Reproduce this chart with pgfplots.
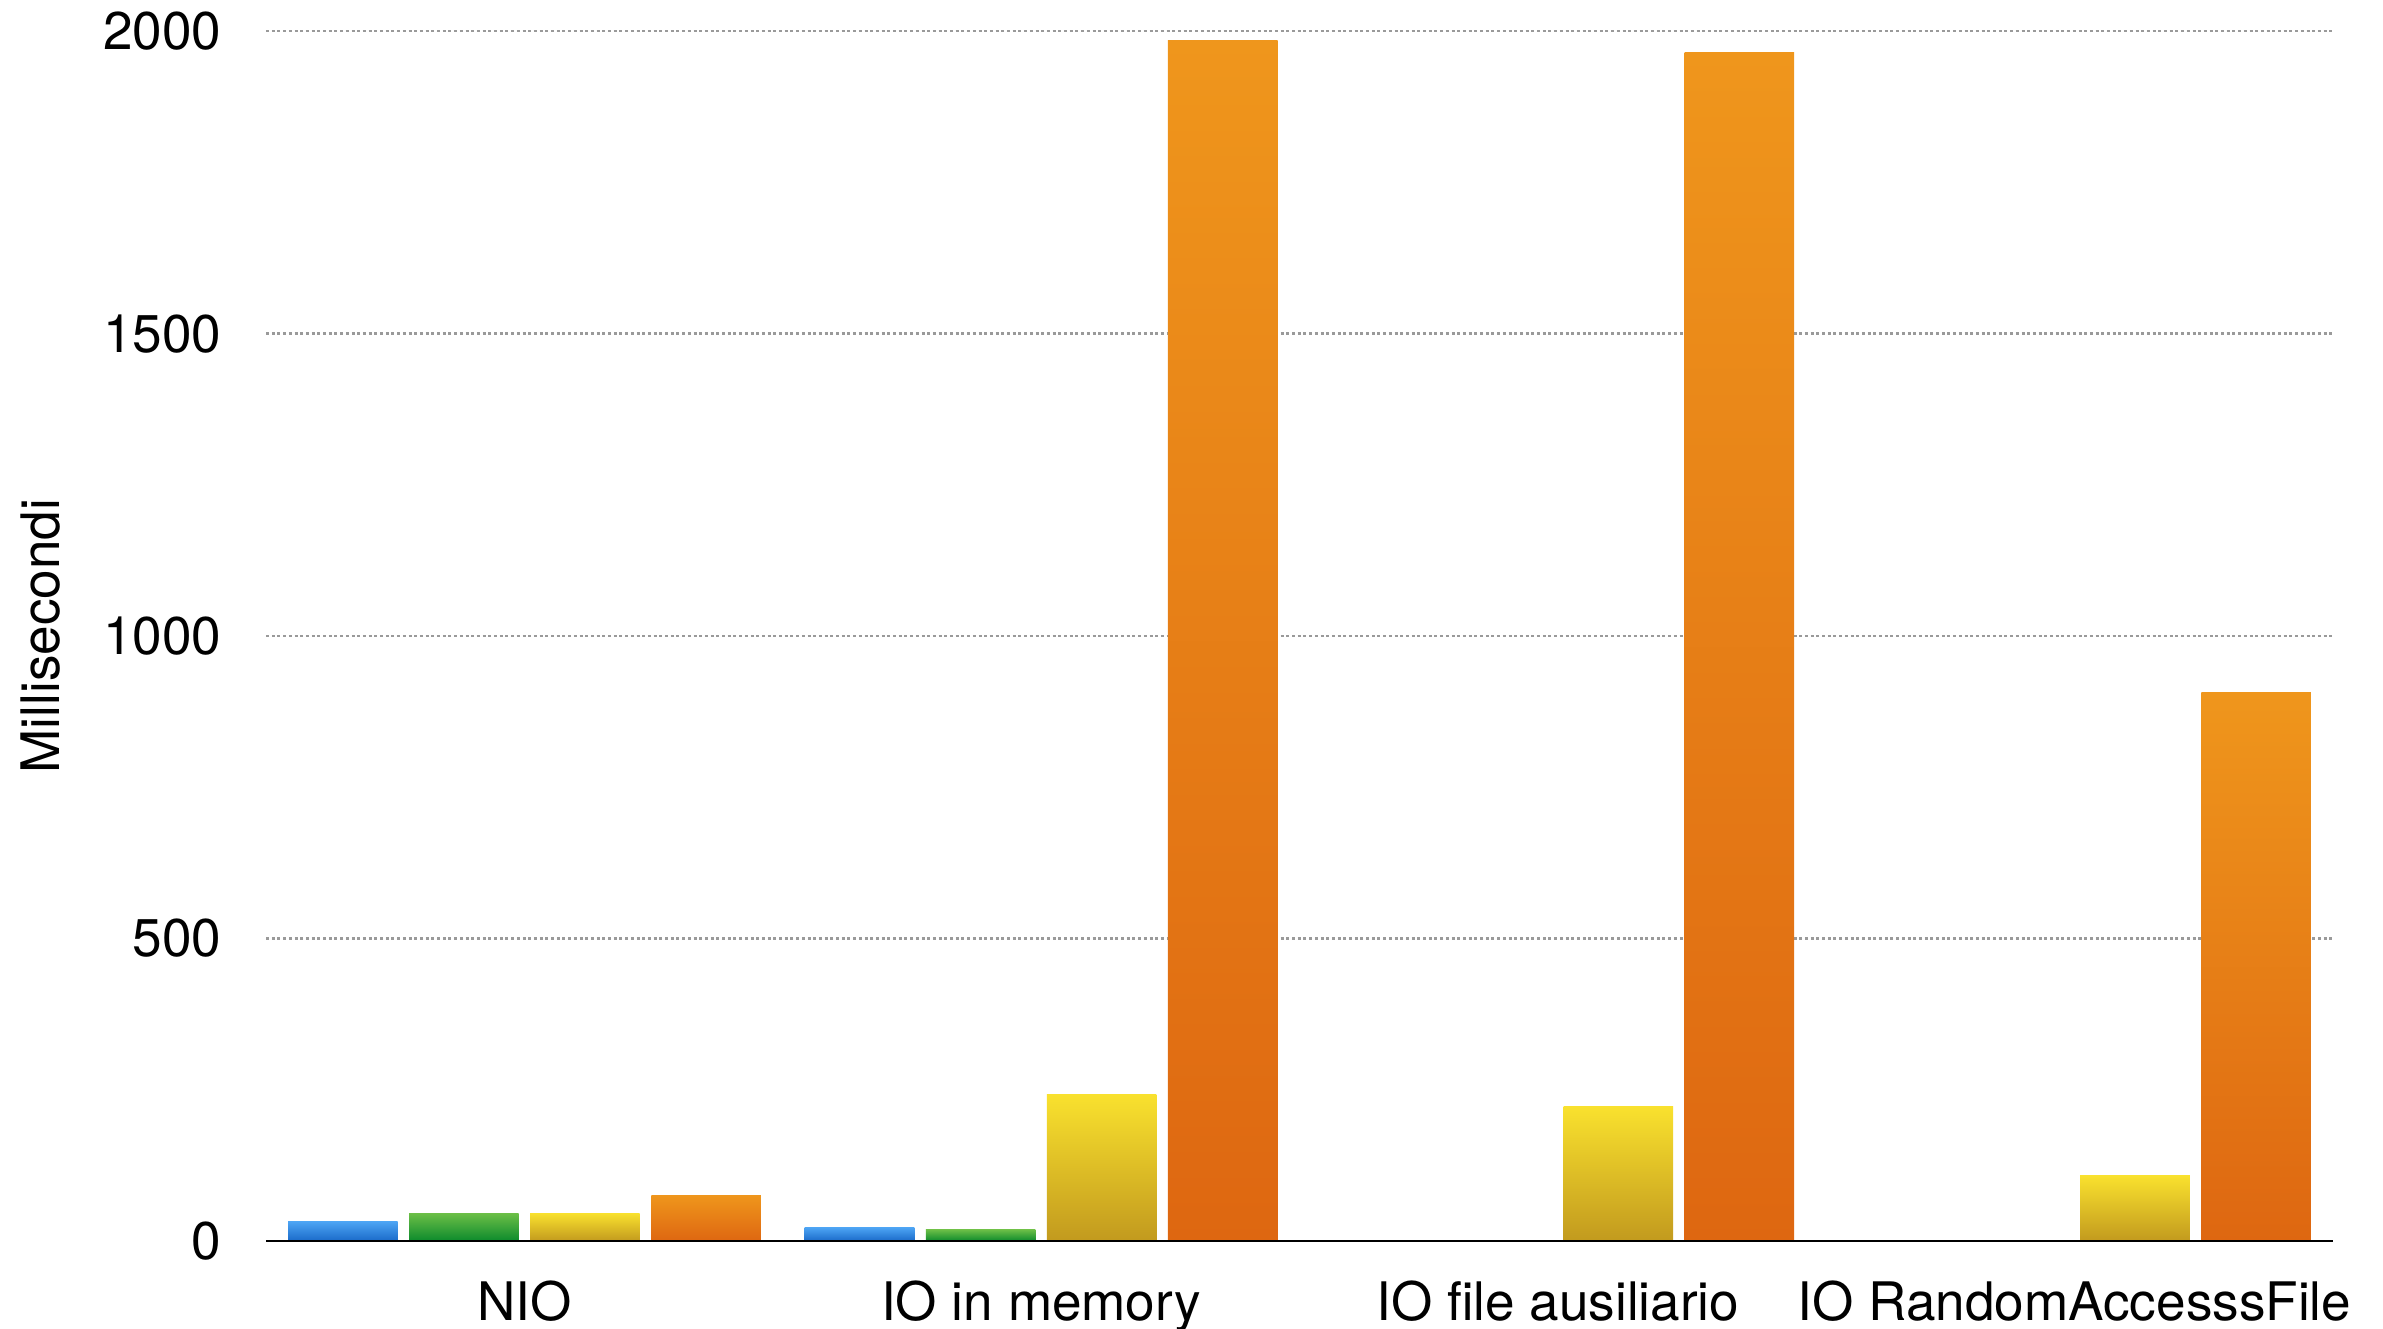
\documentclass[border=0pt]{standalone}
\usepackage{pgfplots}
\pgfplotsset{compat=1.18}
\usepackage{fontspec}
\setmainfont{TeX Gyre Heros}

\definecolor{blueTop}{HTML}{4EA6F5}
\definecolor{blueBot}{HTML}{1A6AC9}
\definecolor{greenTop}{HTML}{6CBF47}
\definecolor{greenBot}{HTML}{0C8A2C}
\definecolor{yellowTop}{HTML}{F9E12E}
\definecolor{yellowBot}{HTML}{C29A1E}
\definecolor{orangeTop}{HTML}{EF961C}
\definecolor{orangeBot}{HTML}{DE6711}
\definecolor{gridgray}{HTML}{9A9A9A}

\newcommand{\lblfont}{\fontsize{17.7}{21}\selectfont}

% each series gets its own shift and gradient; every bar is its own plot
% so the gradient runs over that bar alone
\pgfplotsset{
  barbase/.style={ybar, bar width=0.212, draw=none},
  sblue/.style={barbase, bar shift=-0.3515, top color=blueTop, bottom color=blueBot},
  sgreen/.style={barbase, bar shift=-0.117, top color=greenTop, bottom color=greenBot},
  syellow/.style={barbase, bar shift=0.117, top color=yellowTop, bottom color=yellowBot},
  sorange/.style={barbase, bar shift=0.3515, top color=orangeTop, bottom color=orangeBot},
}

\begin{document}
\begin{tikzpicture}
\useasboundingbox (-88.7pt,-29pt) rectangle (705.7pt,413.7pt);
\begin{axis}[
  scale only axis,
  width=689pt, height=403.3pt,
  xmin=-0.5, xmax=3.5, ymin=0, ymax=2000,
  xtick={0,1,2,3},
  xticklabels={NIO, IO in memory, IO file ausiliario, IO RandomAccesssFile},
  ytick={0,500,1000,1500,2000},
  major tick length=0pt,
  axis x line*=bottom, axis y line*=left,
  x axis line style={draw=none},
  y axis line style={draw=none},
  ymajorgrids,
  grid style={gridgray, line width=0.8pt, dash pattern=on 1pt off 0.9pt},
  /pgf/number format/assume math mode=true,
  /pgf/number format/1000 sep={},
  ticklabel style={font=\lblfont},
  yticklabel style={inner sep=0pt, anchor=east, xshift=-14.7pt},
  xticklabel style={inner sep=0pt, anchor=north, text height=12.6pt, text depth=0pt, yshift=-13.8pt},
  ylabel={Millisecondi},
  ylabel style={font=\lblfont, at={(axis description cs:-0.1089,0.5)}, anchor=center},
]
% NIO
\addplot[sblue]   coordinates {(0,33)};
\addplot[sgreen]  coordinates {(0,46)};
\addplot[syellow] coordinates {(0,46)};
\addplot[sorange] coordinates {(0,76)};
% IO in memory
\addplot[sblue]   coordinates {(1,23)};
\addplot[sgreen]  coordinates {(1,19)};
\addplot[syellow] coordinates {(1,242)};
\addplot[sorange] coordinates {(1,1984)};
% IO file ausiliario
\addplot[syellow] coordinates {(2,222)};
\addplot[sorange] coordinates {(2,1964)};
% IO RandomAccesssFile
\addplot[syellow] coordinates {(3,108)};
\addplot[sorange] coordinates {(3,906)};
% baseline over the bar feet
\draw[black, line width=1pt] (axis cs:-0.5,0) -- (axis cs:3.5,0);
\end{axis}
\end{tikzpicture}
\end{document}
